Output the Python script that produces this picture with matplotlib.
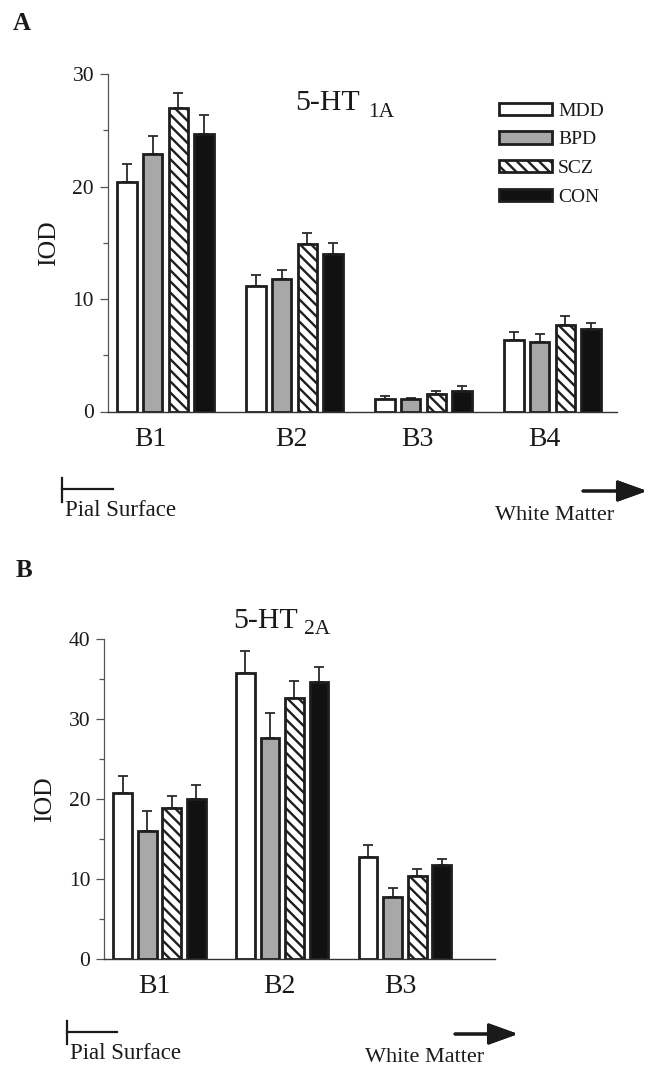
import matplotlib
matplotlib.use('Agg')
import matplotlib.pyplot as plt
from matplotlib.ticker import MultipleLocator
from matplotlib.transforms import ScaledTranslation
import numpy as np

plt.rcParams['font.family'] = ['Liberation Serif', 'DejaVu Serif']
plt.rcParams['hatch.linewidth'] = 1.7

# datos
grupos = ['MDD', 'BPD', 'SCZ', 'CON']
capas_a = ['B1', 'B2', 'B3', 'B4']
capas_b = ['B1', 'B2', 'B3']

media_a = {
    'MDD': [20.4, 11.2, 1.1, 6.4],
    'BPD': [22.9, 11.8, 1.1, 6.2],
    'SCZ': [27.0, 14.9, 1.6, 7.7],
    'CON': [24.7, 14.0, 1.85, 7.35],
}
sem_a = {
    'MDD': [1.6, 0.9, 0.25, 0.7],
    'BPD': [1.6, 0.8, 0.1, 0.65],
    'SCZ': [1.3, 0.95, 0.2, 0.8],
    'CON': [1.65, 1.0, 0.4, 0.5],
}
media_b = {
    'MDD': [20.7, 35.8, 12.75],
    'BPD': [16.0, 27.6, 7.75],
    'SCZ': [18.9, 32.6, 10.4],
    'CON': [20.0, 34.6, 11.7],
}
sem_b = {
    'MDD': [2.2, 2.7, 1.5],
    'BPD': [2.5, 3.1, 1.15],
    'SCZ': [1.5, 2.2, 0.9],
    'CON': [1.8, 1.9, 0.8],
}

estilos = {
    'MDD': dict(facecolor='white', hatch=None),
    'BPD': dict(facecolor='#a8a8a8', hatch=None),
    'SCZ': dict(facecolor='white', hatch='\\\\\\'),
    'CON': dict(facecolor='#111111', hatch=None),
}
borde = '#1e1e1e'
texto = '#1a1a1a'

W, H = 655, 1066
fig = plt.figure(figsize=(W / 100, H / 100), dpi=100)


def fx(px):
    return px / W


def fy(py):
    return 1 - py / H


def panel(rect, capas, media, sem, ymax, xlim, desplaz):
    ax = fig.add_axes(rect)
    x = np.arange(len(capas))
    barras = []
    for i, g in enumerate(grupos):
        pos = x + (i - 1.5) * 0.2
        b = ax.bar(pos, media[g], width=0.152, edgecolor=borde, linewidth=2.0,
                   **estilos[g], label=g, zorder=2)
        barras.append(b)
        ax.errorbar(pos, media[g], yerr=[np.zeros(len(capas)), sem[g]], fmt='none',
                    ecolor='#2a2a2a', elinewidth=1.3, capsize=3.6, capthick=1.3, zorder=1)
    ax.set_xlim(*xlim)
    ax.set_ylim(0, ymax)
    ax.spines['top'].set_visible(False)
    ax.spines['right'].set_visible(False)
    ax.spines['left'].set_bounds(0, ymax)
    ax.spines['left'].set_color('#555555')
    ax.spines['left'].set_linewidth(0.9)
    ax.spines['bottom'].set_color('#333333')
    ax.spines['bottom'].set_linewidth(1.0)
    ax.yaxis.set_major_locator(MultipleLocator(10))
    ax.yaxis.set_minor_locator(MultipleLocator(5))
    ax.tick_params(axis='y', which='major', length=6, width=0.9, color='#555555',
                   labelsize=15.5, labelcolor=texto, pad=4)
    ax.tick_params(axis='y', which='minor', length=3.6, width=0.9, color='#555555')
    ax.set_xticks(x)
    ax.set_xticklabels(capas)
    ax.tick_params(axis='x', length=0, labelsize=20, labelcolor=texto, pad=11)
    # las etiquetas del original estan algo corridas a la izquierda
    for lab, d in zip(ax.get_xticklabels(), desplaz):
        lab.set_transform(lab.get_transform() + ScaledTranslation(d / 100, 0, fig.dpi_scale_trans))
    ax.set_ylabel('IOD', fontsize=18.5, color=texto, labelpad=9)
    ax.patch.set_alpha(0)
    return ax, barras


ax_a, barras_a = panel([fx(108), fy(411.5), fx(509), 337.5 / H], capas_a, media_a, sem_a,
                       30, (-0.445, 3.50), [-15, -3, -6, -8])
ax_b, barras_b = panel([fx(104.3), fy(959), fx(390.7), 320 / H], capas_b, media_b, sem_b,
                       40, (-0.45, 2.734), [-5, -3, -5])

ax_a.legend(handles=barras_a, loc='upper left', bbox_to_anchor=(fx(489), fy(93)),
            bbox_transform=fig.transFigure, frameon=False, borderpad=0,
            handlelength=2.75, handleheight=0.6, handletextpad=0.3, labelspacing=0.6,
            fontsize=14, labelcolor=texto)

# titulos
fig.text(fx(295), fy(110), '5-HT', fontsize=21.5, color=texto, va='baseline')
fig.text(fx(368), fy(117), '1A', fontsize=15.5, color=texto, va='baseline')
fig.text(fx(233), fy(628), '5-HT', fontsize=21.5, color=texto, va='baseline')
fig.text(fx(304), fy(634), '2A', fontsize=15.5, color=texto, va='baseline')

# letras de panel
fig.text(fx(13), fy(30), 'A', fontsize=18, fontweight='bold', color=texto, va='baseline')
fig.text(fx(16), fy(577), 'B', fontsize=18, fontweight='bold', color=texto, va='baseline')

# indicadores de superficie pial / sustancia blanca
for (xv, y0, y1, yh, xh, ytxt, xw, yw, xa0, xa1, ya) in [
        (62, 478, 502, 489, 113, 516, 495, 520, 583, 647, 491),
        (67, 1021, 1044, 1032, 117, 1059, 365, 1062, 455, 518, 1034)]:
    fig.add_artist(plt.Line2D([fx(xv), fx(xv)], [fy(y0), fy(y1)], color=texto, lw=1.6))
    fig.add_artist(plt.Line2D([fx(xv), fx(xh)], [fy(yh), fy(yh)], color=texto, lw=1.6))
    fig.text(fx(xv + 3), fy(ytxt), 'Pial Surface', fontsize=16.5, color=texto, va='baseline')
    fig.text(fx(xw), fy(yw), 'White Matter', fontsize=16, color=texto, va='baseline')
    fig.add_artist(plt.annotate('', xy=(fx(xa1), fy(ya)), xytext=(fx(xa0), fy(ya)),
                                xycoords='figure fraction', textcoords='figure fraction',
                                arrowprops=dict(arrowstyle='-|>,head_length=1.8,head_width=0.65',
                                                lw=2.2, color=texto, shrinkA=0, shrinkB=0)))

fig.savefig('out.png', dpi=100)
